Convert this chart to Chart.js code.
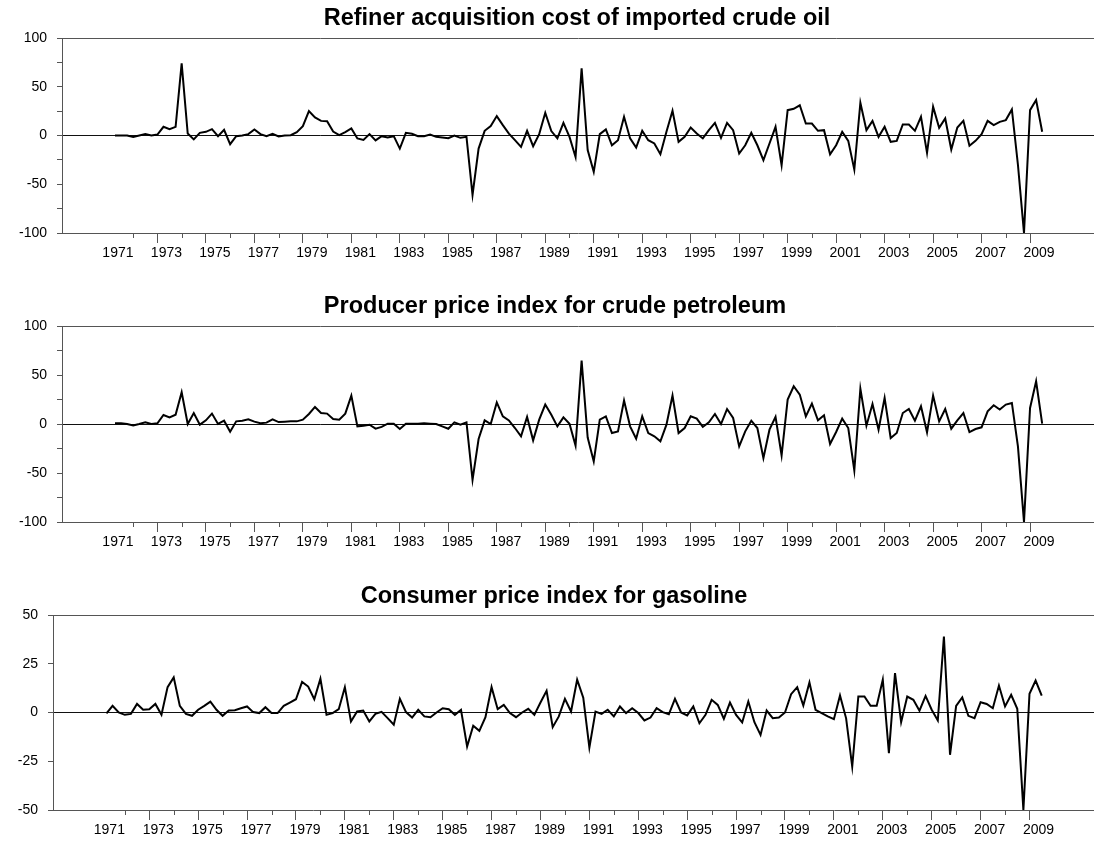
<!DOCTYPE html>
<html><head><meta charset="utf-8">
<script src="https://cdn.jsdelivr.net/npm/chart.js@4.4.1/dist/chart.umd.min.js"></script>
<style>
html,body{margin:0;padding:0;background:#fff;}
#wrap{position:relative;width:1094px;height:848px;overflow:hidden;background:#fff;}
.p{position:absolute;left:0;width:1094px;}
.t{position:absolute;white-space:nowrap;transform:translateX(-50%);font-family:"Liberation Sans",Arial,Helvetica,sans-serif;font-weight:bold;font-size:23.5px;line-height:23px;color:#000;}
</style></head><body>
<div id="wrap">
<div class="p" style="top:0;height:290px"><canvas id="c1"></canvas></div>
<div class="p" style="top:290px;height:280px"><canvas id="c2"></canvas></div>
<div class="p" style="top:570px;height:278px"><canvas id="c3"></canvas></div>
<div class="t" id="t1" style="left:577px;top:6px"></div>
<div class="t" id="t2" style="left:555px;top:294px"></div>
<div class="t" id="t3" style="left:554px;top:584px"></div>
</div>
<script>
// ---- categories: quarterly, 1971Q2 .. 2009Q3 ----
const firstYear = 1971, firstQuarter = 2, nObs = 154;
const quarters = [];
for (let k = 0; k < nObs; k++) {
  const qi = firstQuarter - 1 + k;
  quarters.push((firstYear + Math.floor(qi / 4)) + 'Q' + (qi % 4 + 1));
}
const labelYears = [1971,1973,1975,1977,1979,1981,1983,1985,1987,1989,1991,1993,1995,1997,1999,2001,2003,2005,2007,2009];
const minorYears = [1972,1974,1976,1978,1980,1982,1984,1986,1988,1990,1992,1994,1996,1998,2000,2002,2004,2006,2008];

const titles = ['Refiner acquisition cost of imported crude oil','Producer price index for crude petroleum','Consumer price index for gasoline'];

const refinerCost = [0,0,0,-1.4,0,1.4,0,1,8.9,6.5,8.9,74,2,-4,2.7,3.8,6.5,-0.7,5.8,-8.9,
-0.7,0,1.4,6.2,1.4,-0.7,1.7,-1,0,0.3,3.4,9.6,25,18.5,15,14.7,4,0.3,3.4,7.2,
-3,-4.5,1.4,-5,-0.7,-2,-0.7,-13.4,2.7,1.7,-0.7,-0.7,1,-1.4,-2,-2.7,0,-2.4,-1.4,-61,
-13.4,4.8,9.6,19.9,10.6,2,-4.8,-11.6,4.8,-11,1.4,23.3,4.5,-3,13,-1.4,-22,69,-15,-37.3,
1.4,6.2,-10,-4.8,19.2,-3,-12.3,4.8,-4.8,-8.2,-19.2,3.8,25.3,-6.5,-1.4,8.2,2,-3,5.5,13,
-2.4,13,5.5,-18.5,-10,2.7,-10,-25.3,-8.2,8.9,-30.5,26,27.4,31,12.3,12.3,4.8,5.5,-19.2,-10,
3.8,-5.5,-35,33.6,5.5,15,-1.4,8.9,-6.5,-5.5,11.3,11.3,4.8,19.2,-17.8,29.5,7.9,17.5,-14.4,8.2,
15,-10.6,-5.5,1.4,15,10.6,14,15.8,26.7,-30,-100,26,36.3,3.8];

const ppiCrude = [0.7,0.7,0,-1.4,0,1.7,0,0.7,9.2,6.8,9.5,32.4,0,11.2,-0.7,3.7,10.6,0,3.4,-7.8,
2.7,3.4,4.8,2.4,0.7,1.4,4.8,2,2.4,2.7,2.7,4.4,10.2,17.4,11.2,10.6,5.1,4.4,10.6,29,
-2.4,-1.7,-0.7,-4.8,-3,0.3,0.3,-5.1,0.3,0.3,0.3,0.7,0.3,0,-2.4,-4.8,1.7,-0.7,1.7,-57,
-15.3,3.7,0,22,7.8,3.7,-4.1,-12.6,7.2,-16.7,4.4,19.8,9.5,-2.4,6.8,0.3,-22,64.7,-13.8,-38.2,
4.4,7.8,-9.2,-7.5,23.9,-2.4,-15,7.8,-9.2,-12.6,-17.7,-0.7,29,-9.2,-4.1,7.8,5.5,-3,1.7,10.2,
0,15.3,6.1,-22.8,-7.5,3.4,-4.1,-34.8,-5.8,7.2,-32,24.9,38.5,30,7.8,20.8,3.7,8.9,-20.4,-8.2,
5.5,-4.1,-47.4,36.1,-1.7,20.4,-5.8,26.6,-14.3,-9.2,11.2,15.3,3.4,18.1,-8.5,29,2.7,15.3,-4.8,3.7,
11.2,-8.2,-5.1,-3.4,12.9,19.1,14.7,19.8,21.5,-22.8,-100,16.4,43.6,0.3];

const cpiGasoline = [-0.5,3.4,0,-1.2,-0.7,4.4,1.4,1.7,4.4,-1.2,13,18,3.4,-0.7,-1.7,1.4,3.4,5.6,1.4,-1.7,
1,1.2,2.2,3.1,0.2,-0.3,2.7,-0.3,-0.3,3.4,5.1,6.8,15.7,13.3,6.8,17.3,-1.2,-0.3,1.7,13,
-4.6,0.5,1,-4.6,-0.7,0.3,-2.9,-6.3,7,0.2,-2.6,1.4,-2,-2.4,0,2.2,1.7,-1.2,1.4,-17.4,
-6.8,-9.4,-2.4,13,1.7,3.9,-0.3,-2.4,0,1.9,-1.2,5.1,11.1,-7.5,-2,7,0.5,16.8,7.6,-18,
0.5,-0.7,1.4,-2,3.1,-0.3,2.2,-0.3,-4.1,-2.6,2.2,0.2,-0.9,7,0,-1.5,3.1,-5.5,-1.2,6.5,
3.9,-3.2,5.1,-1.2,-5.1,5.6,-5,-11.5,1,-2.9,-2.6,0,9.4,13,3.6,15.4,1.4,-0.3,-2,-3.4,
8.7,-3,-27.7,8.2,8.2,3.4,3.4,16.8,-20.9,20.2,-5,8.2,6.5,0.9,8.5,1.4,-4.1,39,-21.7,3.4,
7.7,-1.7,-2.9,5.3,4.4,2.2,13.8,3.1,9.1,1.9,-50,9.6,16.4,8.7];

const yTicks1 = [-100,-75,-50,-25,0,25,50,75,100];
const yLabels1 = [-100,-50,0,50,100];
const yTicks3 = [-50,-25,0,25,50];
const yLabels3 = [-50,-25,0,25,50];

function qToYear(q) { return parseInt(q.slice(0,4)) + (parseInt(q.slice(5)) - 1) / 4; }

const FONT = '"Liberation Sans", Arial, Helvetica, sans-serif';
const FRAME = '#555';

const minorTickPlugin = {
  id: 'minorTicks',
  afterDraw(chart) {
    const xs = chart.scales.x, ctx = chart.ctx, b = chart.chartArea.bottom;
    ctx.save();
    ctx.strokeStyle = FRAME; ctx.lineWidth = 1;
    ctx.beginPath();
    minorYears.forEach(yr => {
      const px = Math.round(xs.getPixelForValue(yr)) + 0.5;
      ctx.moveTo(px, b); ctx.lineTo(px, b + 5);
    });
    ctx.stroke();
    ctx.restore();
  }
};

function makeChart(id, values, o) {
  const pts = quarters.map((q, i) => ({x: qToYear(q), y: values[i]}));
  return new Chart(document.getElementById(id), {
    type: 'line',
    data: {datasets: [{data: pts, borderColor: '#000', borderWidth: 2, pointRadius: 0, tension: 0, fill: false}]},
    options: {
      responsive: true, maintainAspectRatio: false, animation: false,
      layout: {padding: {left: 0, right: 0, top: o.top, bottom: 0}},
      plugins: {legend: {display: false}, tooltip: {enabled: false}, title: {display: false}},
      scales: {
        x: {
          type: 'linear', min: 1969.0635, max: 2011.638,
          afterBuildTicks: s => { s.ticks = labelYears.map(v => ({value: v})); },
          ticks: {autoSkip: false, maxRotation: 0, minRotation: 0, labelOffset: 9, padding: 2,
            color: '#000', font: {family: FONT, size: 14}, callback: v => String(v)},
          grid: {drawOnChartArea: false, drawTicks: true, tickLength: 10, lineWidth: 1,
            tickColor: c => (c.tick && c.tick.value === 1971) ? 'rgba(0,0,0,0)' : FRAME},
          border: {display: true, color: FRAME, width: 1},
          afterFit: s => { s.height = o.xh; }
        },
        y: {
          min: o.ymin, max: o.ymax,
          afterBuildTicks: s => { s.ticks = o.yTicks.map(v => ({value: v})); },
          ticks: {autoSkip: false, padding: 10, color: '#000', font: {family: FONT, size: 14},
            callback: v => o.yLabels.includes(v) ? String(v) : ''},
          grid: {drawOnChartArea: true, drawTicks: true, tickLength: 5, lineWidth: 1,
            tickColor: FRAME,
            color: c => (c.tick && c.tick.value === 0) ? '#111' : ((c.tick && c.tick.value === o.ymax) ? FRAME : 'rgba(0,0,0,0)')},
          border: {display: true, color: FRAME, width: 1},
          afterFit: s => { s.width = o.yw; }
        }
      }
    },
    plugins: [minorTickPlugin]
  });
}

document.getElementById('t1').textContent = titles[0];
document.getElementById('t2').textContent = titles[1];
document.getElementById('t3').textContent = titles[2];

makeChart('c1', refinerCost, {top: 38, xh: 57, ymin: -100, ymax: 100, yTicks: yTicks1, yLabels: yLabels1, yw: 62});
makeChart('c2', ppiCrude, {top: 36, xh: 48, ymin: -100, ymax: 100, yTicks: yTicks1, yLabels: yLabels1, yw: 62});
makeChart('c3', cpiGasoline, {top: 45, xh: 38, ymin: -50, ymax: 50, yTicks: yTicks3, yLabels: yLabels3, yw: 53});
</script>
</body></html>
